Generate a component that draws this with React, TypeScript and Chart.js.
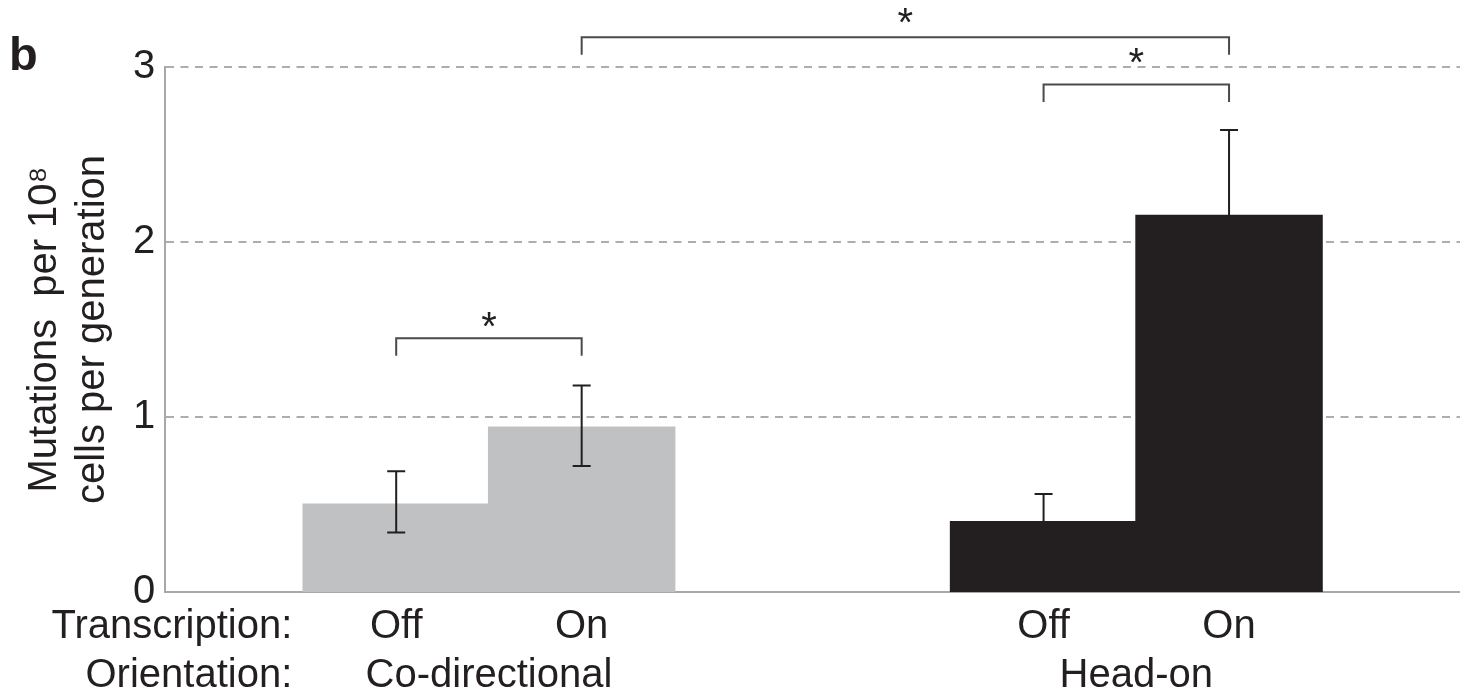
import React, { useEffect, useRef } from "react";
import { Chart, registerables } from "chart.js";

Chart.register(...registerables);

// ---- data ----
const groups = ["Co-directional", "Head-on"];
const transcription = ["Off", "On"];
const offMeans = [0.5, 0.4];
const onMeans = [0.94, 2.15];
const offLow = [0.34, 0.24];
const offHigh = [0.69, 0.56];
const onLow = [0.72, 1.66];
const onHigh = [1.18, 2.64];
const groupColors = ["#c0c1c3", "#231f20"];
const yTicks = [0, 1, 2, 3];
const yTitle = ["Mutations  per 10\u2078", "cells per generation"];
// brackets: [datasetIndex, groupIndex] of both ends, level and star level (data units)
const bracketFrom = [[0, 0], [0, 1], [1, 0]];
const bracketTo = [[1, 0], [1, 1], [1, 1]];
const bracketLevel = [1.45, 2.9, 3.17];
const starLevel = [1.57, 3.08, 3.31];
const bracketText = ["*", "*", "*"];

const FONT = "'Liberation Sans', Arial, Helvetica, sans-serif";
const INK = "#231f20";

const annotations = {
  id: "annotations",
  afterDatasetsDraw(chart: any) {
    const { ctx, chartArea, scales } = chart;
    const ys = scales.y;
    const xs = scales.x;
    const barX = (d: number, i: number) => chart.getDatasetMeta(d).data[i].x;
    ctx.save();

    // error bars
    const lows = [offLow, onLow];
    const highs = [offHigh, onHigh];
    ctx.strokeStyle = INK;
    ctx.lineWidth = 2;
    for (let d = 0; d < 2; d++) {
      for (let i = 0; i < groups.length; i++) {
        const cx = barX(d, i);
        const yl = ys.getPixelForValue(lows[d][i]);
        const yh = ys.getPixelForValue(highs[d][i]);
        ctx.beginPath();
        ctx.moveTo(cx, yl);
        ctx.lineTo(cx, yh);
        ctx.moveTo(cx - 9, yl);
        ctx.lineTo(cx + 9, yl);
        ctx.moveTo(cx - 9, yh);
        ctx.lineTo(cx + 9, yh);
        ctx.stroke();
      }
    }

    // significance brackets
    const drop = ys.getPixelForValue(0) - ys.getPixelForValue(0.1);
    for (let k = 0; k < bracketLevel.length; k++) {
      const x1 = barX(bracketFrom[k][0], bracketFrom[k][1]);
      const x2 = barX(bracketTo[k][0], bracketTo[k][1]);
      const yb = ys.getPixelForValue(bracketLevel[k]);
      ctx.strokeStyle = "#4a4a4a";
      ctx.lineWidth = 2;
      ctx.beginPath();
      ctx.moveTo(x1, yb + drop);
      ctx.lineTo(x1, yb);
      ctx.lineTo(x2, yb);
      ctx.lineTo(x2, yb + drop);
      ctx.stroke();
      ctx.fillStyle = INK;
      ctx.font = `40px ${FONT}`;
      ctx.textAlign = "center";
      ctx.textBaseline = "alphabetic";
      ctx.fillText(bracketText[k], (x1 + x2) / 2, ys.getPixelForValue(starLevel[k]) + 23);
    }

    // x labels
    ctx.fillStyle = INK;
    ctx.font = `40px ${FONT}`;
    ctx.textBaseline = "alphabetic";
    ctx.textAlign = "center";
    const row1 = chartArea.bottom + 46;
    const row2 = chartArea.bottom + 95;
    for (let d = 0; d < 2; d++) {
      for (let i = 0; i < groups.length; i++) {
        ctx.fillText(transcription[d], barX(d, i), row1);
      }
    }
    for (let i = 0; i < groups.length; i++) {
      ctx.fillText(groups[i], xs.getPixelForValue(i), row2);
    }
    ctx.textAlign = "right";
    ctx.fillText("Transcription:", chartArea.left + 127, row1);
    ctx.fillText("Orientation:", chartArea.left + 127, row2);

    // panel letter
    ctx.font = `bold 47px ${FONT}`;
    ctx.textAlign = "left";
    ctx.fillText("b", 9, 70);
    ctx.restore();
  },
};

export default function App() {
  const ref = useRef<HTMLCanvasElement>(null);
  useEffect(() => {
    document.body.style.margin = "0";
    Chart.defaults.font.family = FONT;
    const canvas = ref.current!;
    const chart = new Chart(canvas, {
      type: "bar",
      data: {
        labels: groups,
        datasets: [
          {
            label: transcription[0],
            data: offMeans,
            backgroundColor: groupColors,
            borderWidth: 0,
            inflateAmount: 1,
            categoryPercentage: 0.573,
            barPercentage: 1,
          },
          {
            label: transcription[1],
            data: onMeans,
            backgroundColor: groupColors,
            borderWidth: 0,
            inflateAmount: 1,
            categoryPercentage: 0.573,
            barPercentage: 1,
          },
        ],
      },
      options: {
        responsive: false,
        animation: false,
        layout: { padding: { left: 17, right: 0, top: 67, bottom: 108 } },
        plugins: { legend: { display: false }, tooltip: { enabled: false } },
        scales: {
          x: {
            type: "category",
            grid: { display: false, drawTicks: false },
            ticks: { display: false },
            border: { color: "#a8a8a8", width: 2 },
          },
          y: {
            min: yTicks[0],
            max: yTicks[yTicks.length - 1],
            afterBuildTicks: (s: any) => {
              s.ticks = yTicks.map((v) => ({ value: v }));
            },
            ticks: { font: { size: 40 }, color: INK, padding: 10 },
            grid: {
              color: (c: any) => (c.tick && c.tick.value === 0 ? "rgba(0,0,0,0)" : "#adadad"),
              lineWidth: 2,
              drawTicks: false,
            },
            border: { color: "#a8a8a8", width: 2, dash: [8, 6.5] },
            title: {
              display: true,
              text: yTitle,
              font: { size: 40 },
              color: INK,
              padding: { top: 4, bottom: 6 },
            },
          },
        },
      },
      plugins: [annotations],
    } as any);
    return () => chart.destroy();
  }, []);
  return (
    <div style={{ width: 1460, height: 700, background: "#fff" }}>
      <canvas ref={ref} width={1460} height={700} style={{ display: "block" }} />
    </div>
  );
}
